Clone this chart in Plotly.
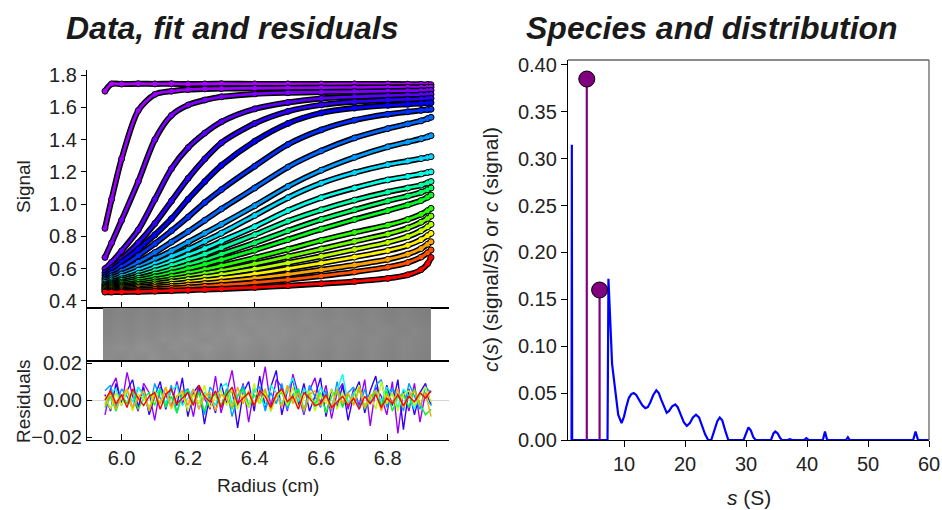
import colorsys
import numpy as np
import plotly.graph_objects as go

# ---------------- data ----------------
radius = [5.95, 5.97, 6.00, 6.05, 6.10, 6.15, 6.20, 6.25, 6.30, 6.40,
          6.50, 6.60, 6.70, 6.80, 6.86, 6.90, 6.92, 6.93]

scans = [
    [1.700, 1.745, 1.744, 1.746, 1.745, 1.746, 1.744, 1.745, 1.746, 1.745, 1.745, 1.744, 1.745, 1.744, 1.743, 1.742, 1.741, 1.740],
    [0.850, 1.030, 1.280, 1.580, 1.680, 1.700, 1.710, 1.714, 1.716, 1.718, 1.720, 1.721, 1.722, 1.723, 1.724, 1.724, 1.725, 1.725],
    [0.670, 0.760, 0.900, 1.140, 1.400, 1.550, 1.614, 1.645, 1.665, 1.683, 1.690, 1.694, 1.697, 1.700, 1.702, 1.703, 1.704, 1.705],
    [0.600, 0.640, 0.710, 0.840, 1.030, 1.220, 1.350, 1.440, 1.510, 1.590, 1.630, 1.655, 1.665, 1.672, 1.676, 1.678, 1.680, 1.680],
    [0.575, 0.605, 0.660, 0.760, 0.880, 1.020, 1.160, 1.280, 1.380, 1.500, 1.575, 1.615, 1.635, 1.645, 1.649, 1.652, 1.654, 1.655],
    [0.560, 0.590, 0.640, 0.720, 0.810, 0.910, 1.030, 1.140, 1.240, 1.390, 1.500, 1.565, 1.595, 1.612, 1.619, 1.624, 1.627, 1.628],
    [0.545, 0.570, 0.610, 0.680, 0.755, 0.835, 0.920, 1.010, 1.090, 1.235, 1.370, 1.460, 1.520, 1.557, 1.572, 1.581, 1.586, 1.588],
    [0.535, 0.555, 0.585, 0.640, 0.700, 0.765, 0.830, 0.900, 0.970, 1.100, 1.230, 1.330, 1.410, 1.468, 1.497, 1.516, 1.530, 1.538],
    [0.525, 0.542, 0.567, 0.610, 0.660, 0.710, 0.765, 0.820, 0.875, 0.990, 1.110, 1.210, 1.290, 1.355, 1.385, 1.405, 1.417, 1.424],
    [0.515, 0.530, 0.552, 0.590, 0.630, 0.675, 0.720, 0.770, 0.820, 0.930, 1.040, 1.130, 1.195, 1.245, 1.267, 1.282, 1.290, 1.294],
    [0.505, 0.518, 0.537, 0.570, 0.607, 0.645, 0.685, 0.725, 0.770, 0.860, 0.960, 1.040, 1.100, 1.150, 1.172, 1.187, 1.196, 1.200],
    [0.500, 0.510, 0.527, 0.555, 0.587, 0.620, 0.655, 0.690, 0.730, 0.810, 0.895, 0.965, 1.025, 1.075, 1.100, 1.118, 1.132, 1.140],
    [0.495, 0.503, 0.517, 0.540, 0.567, 0.595, 0.625, 0.655, 0.690, 0.760, 0.835, 0.905, 0.965, 1.020, 1.050, 1.073, 1.090, 1.100],
    [0.490, 0.497, 0.508, 0.527, 0.550, 0.574, 0.600, 0.627, 0.656, 0.715, 0.780, 0.845, 0.905, 0.960, 0.995, 1.022, 1.043, 1.056],
    [0.485, 0.490, 0.499, 0.514, 0.532, 0.552, 0.573, 0.595, 0.618, 0.667, 0.720, 0.775, 0.825, 0.870, 0.905, 0.937, 0.960, 0.974],
    [0.480, 0.484, 0.491, 0.503, 0.518, 0.534, 0.551, 0.569, 0.588, 0.630, 0.675, 0.722, 0.770, 0.815, 0.852, 0.888, 0.912, 0.926],
    [0.475, 0.478, 0.484, 0.494, 0.506, 0.519, 0.533, 0.548, 0.564, 0.598, 0.636, 0.677, 0.720, 0.763, 0.799, 0.835, 0.860, 0.875],
    [0.470, 0.472, 0.477, 0.485, 0.494, 0.504, 0.515, 0.527, 0.540, 0.568, 0.600, 0.635, 0.672, 0.712, 0.745, 0.780, 0.805, 0.819],
    [0.465, 0.466, 0.470, 0.476, 0.483, 0.491, 0.499, 0.508, 0.518, 0.540, 0.565, 0.593, 0.623, 0.658, 0.690, 0.725, 0.752, 0.767],
    [0.460, 0.461, 0.463, 0.467, 0.472, 0.478, 0.484, 0.491, 0.498, 0.514, 0.533, 0.555, 0.580, 0.610, 0.638, 0.672, 0.699, 0.716],
    [0.455, 0.455, 0.456, 0.458, 0.461, 0.464, 0.467, 0.471, 0.475, 0.484, 0.495, 0.507, 0.521, 0.540, 0.562, 0.594, 0.632, 0.670],
]

# residuals (milli-signal units), one row per displayed scan
residual_scans = [1, 4, 8, 10, 13, 16, 18, 20]
residuals_milli = [
    [-8, 6, 12, -3, 15, 2, -6, 9, 4, -11, 7, 3, -4, 10, -2, 5, -9, 8, 1, -5, 13, -7, 4, 16, -3, 9, -12, 6, 2, 18, -4, 11, 7, -6, 14, 3, -8, 5, 12, -2, 8, -10, 4, 9, -5, 6, -3, 11, -14, 7, 2, -8, 10, -18, 5, -6, 9, -12, 4, -2],
    [3, -6, 9, -2, 5, 11, -4, 7, -8, 2, 10, -5, 6, -3, 12, -9, 4, 8, -13, 3, -7, 9, -2, 6, -15, 4, 10, -6, 13, -4, 7, 16, -8, 5, 11, -3, 9, -6, 2, 12, -9, 6, -4, 8, -11, 3, 10, -7, 5, 13, -5, 8, -3, 11, -16, 6, -8, 4, 9, -3],
    [5, 8, -4, 6, 2, -5, 7, 3, -6, 9, 1, -3, 8, -7, 4, 6, -2, 5, -8, 7, 3, -4, 6, -9, 2, 8, -3, 5, 7, -6, 4, -2, 9, -5, 3, 6, -7, 8, 2, -4, 5, -6, 10, -3, 4, 7, -5, 6, -2, 8, 11, -4, 6, 3, -6, 9, 2, -5, 7, 4],
    [-2, 4, 6, -3, 5, -1, 7, 2, -4, 3, 6, -2, 5, 8, -3, 1, 6, -5, 4, 2, -3, 7, 9, -2, 3, 5, -4, 6, 1, -3, 8, 4, -2, 5, 12, -1, 6, 3, -4, 7, 2, -3, 5, 14, -2, 4, 6, -3, 2, 5, -1, 7, 3, -4, 6, 2, -5, 4, 1, -3],
    [-4, 2, -6, 3, -2, 5, -5, 1, 4, -3, 6, -4, 2, -7, 3, 5, -2, 4, -6, 1, 3, -3, 5, -5, 2, 6, -4, 3, -2, 5, -6, 2, 4, -3, 1, 6, -5, 3, -2, 4, -7, 2, 5, -4, 3, -2, 6, -5, 1, 4, -3, 5, -6, 2, 3, -4, 6, -2, -8, -5],
    [2, -5, 4, -3, 6, -6, 3, 1, -4, 5, -2, 7, -5, 2, 4, -6, 3, -2, 8, -4, 2, 5, -3, 6, -5, 3, -4, 9, -2, 4, -6, 2, 5, -3, 7, -4, 1, 5, -6, 3, -2, 6, -5, 4, -3, 2, 8, -4, 3, -5, 10, -2, 4, -6, 3, 5, -3, 2, 7, -1],
    [-3, 4, -5, 2, 6, -4, 1, 5, -6, 3, -2, 7, -4, 2, 5, -3, 6, -5, 2, 4, -6, 3, 1, -4, 7, -2, 5, -3, 2, 6, -5, 3, -4, 8, -2, 4, -6, 3, 5, -3, 2, -5, 6, -2, 4, -3, 7, -4, 2, 5, -6, 3, -2, 6, -4, 2, 5, -3, 4, -9],
    [0, 5, -2, 3, -4, 6, 1, -3, 2, 4, -5, 3, 6, -2, 1, 4, -3, 8, 2, -1, 5, -4, 3, 7, -2, 1, 4, -3, 5, 2, -4, 3, 6, -1, 2, -5, 4, 1, -3, -2, 3, -4, -1, 2, -3, 1, -5, 2, -2, 3, -4, 1, -2, 3, -3, 2, -1, 4, 1, 5],
]

# residual bitmap (grey levels)
bitmap_grey = [
    [140, 136, 142, 138, 145, 139, 137, 143, 136, 141, 138, 135, 140, 137, 134, 139, 136, 133, 138, 135, 132, 137, 134, 131, 136, 133, 130, 135, 132, 129],
    [138, 143, 139, 146, 141, 137, 144, 139, 142, 147, 140, 138, 143, 139, 136, 141, 138, 135, 140, 136, 134, 138, 135, 133, 137, 134, 131, 136, 133, 130],
    [135, 139, 136, 141, 138, 143, 140, 145, 141, 138, 144, 140, 146, 142, 139, 143, 140, 137, 141, 138, 135, 139, 136, 134, 138, 135, 132, 136, 133, 131],
    [133, 137, 134, 138, 135, 140, 137, 141, 138, 143, 139, 145, 141, 138, 144, 140, 142, 139, 136, 140, 137, 134, 138, 135, 133, 137, 134, 131, 135, 132],
    [131, 135, 132, 136, 133, 137, 134, 138, 136, 140, 137, 141, 138, 143, 139, 141, 138, 136, 140, 137, 134, 138, 135, 132, 136, 133, 130, 134, 131, 129],
    [129, 133, 130, 134, 131, 135, 132, 136, 133, 137, 134, 138, 135, 139, 136, 138, 135, 133, 137, 134, 131, 135, 132, 130, 134, 131, 128, 132, 129, 127],
]

# c(s) distribution
s_values = [1.4, 1.45, 1.5, 7.3, 7.45, 8.05, 9.05, 9.6, 10.0, 10.4, 10.8, 11.2, 11.6, 12.0, 12.5, 13.0, 13.5, 13.9, 14.3,
            14.8, 15.3, 15.7, 16.1, 16.6, 17.0, 17.4, 17.9, 18.4, 18.8, 19.3, 19.8, 20.3, 20.8, 21.3, 21.8, 22.3, 22.8,
            23.3, 23.8, 24.3, 24.8, 25.3, 25.7, 26.1, 26.6, 27.1, 29.6, 30.0, 30.4, 30.8, 31.2, 31.6, 34.1, 34.5, 34.8,
            35.2, 35.6, 35.9, 36.8, 37.2, 37.6, 39.5, 39.9, 40.3, 42.6, 42.95, 43.3, 46.4, 46.7, 47.0, 57.4, 57.8, 58.2, 60.0]
c_values = [0.0, 0.315, 0.0, 0.0, 0.172, 0.081, 0.027, 0.018, 0.025, 0.036, 0.045, 0.049, 0.050, 0.048, 0.043, 0.037, 0.034, 0.035, 0.040,
            0.048, 0.053, 0.050, 0.043, 0.034, 0.029, 0.031, 0.036, 0.038, 0.035, 0.027, 0.019, 0.015, 0.018, 0.024, 0.027, 0.024, 0.015,
            0.006, 0.0, 0.0, 0.010, 0.020, 0.024, 0.021, 0.010, 0.0, 0.0, 0.008, 0.0135, 0.010, 0.003, 0.0, 0.0, 0.007, 0.009,
            0.007, 0.002, 0.0, 0.0, 0.001, 0.0, 0.0, 0.002, 0.0, 0.0, 0.009, 0.0, 0.0, 0.003, 0.0, 0.0, 0.009, 0.0, 0.0]

species_s = [3.9, 6.0]
species_c = [0.385, 0.160]

signal_ticks = [0.4, 0.6, 0.8, 1.0, 1.2, 1.4, 1.6, 1.8]
radius_ticks = [6.0, 6.2, 6.4, 6.6, 6.8]
residual_ticks = [-0.02, 0.0, 0.02]
s_ticks = [10, 20, 30, 40, 50, 60]
c_ticks = [0.00, 0.05, 0.10, 0.15, 0.20, 0.25, 0.30, 0.35, 0.40]

# ---------------- style ----------------
W, H = 942, 510
FONT = "Liberation Sans, Arial, sans-serif"
n_scans = len(scans)


def scan_color(k):
    x = k / (n_scans - 1)
    hue = 0.78 * (1 - x ** 1.4)
    r, g, b = colorsys.hsv_to_rgb(hue, 1.0, 1.0)
    return "rgb(%d,%d,%d)" % (r * 255, g * 255, b * 255)


def px_x(p):
    return p / W


def px_y(p):
    return 1 - p / H


xdom_left = [px_x(87), px_x(449)]
xdom_right = [px_x(568), px_x(929)]

fig = go.Figure()

# data + fits
for k, vals in enumerate(scans):
    col = scan_color(k)
    fig.add_trace(go.Scatter(
        x=radius, y=vals, mode="lines+markers", xaxis="x", yaxis="y",
        line=dict(color="black", width=6, shape="spline", smoothing=0.8),
        marker=dict(size=6, color=col, line=dict(color="black", width=1)),
        showlegend=False, hoverinfo="skip"))
    fig.add_trace(go.Scatter(
        x=radius, y=vals, mode="lines", xaxis="x", yaxis="y",
        line=dict(color=col, width=2.8, shape="spline", smoothing=0.8),
        showlegend=False, hoverinfo="skip"))

# bitmap
fig.add_trace(go.Heatmap(
    z=bitmap_grey, x=np.linspace(5.944, 6.93, len(bitmap_grey[0]) + 1),
    y=np.linspace(0, 1, len(bitmap_grey) + 1), xaxis="x2", yaxis="y2",
    colorscale=[[0, "black"], [1, "white"]], zmin=0, zmax=255,
    showscale=False, zsmooth="best", hoverinfo="skip"))

# residuals
res_r = np.linspace(5.95, 6.93, len(residuals_milli[0]))
for k, row in zip(residual_scans, residuals_milli):
    fig.add_trace(go.Scatter(
        x=res_r, y=[v / 1000 for v in row], mode="lines", xaxis="x3", yaxis="y3",
        line=dict(color=scan_color(k), width=1.4),
        showlegend=False, hoverinfo="skip"))

# c(s)
fig.add_trace(go.Scatter(
    x=s_values, y=c_values, mode="lines", xaxis="x4", yaxis="y4",
    line=dict(color="#0000ff", width=2.2),
    showlegend=False, hoverinfo="skip"))

stem_x, stem_y = [], []
for s, c in zip(species_s, species_c):
    stem_x += [s, s, None]
    stem_y += [0, c, None]
fig.add_trace(go.Scatter(
    x=stem_x, y=stem_y, mode="lines", xaxis="x4", yaxis="y4",
    line=dict(color="#800080", width=2.2), showlegend=False, hoverinfo="skip"))
fig.add_trace(go.Scatter(
    x=species_s, y=species_c, mode="markers", xaxis="x4", yaxis="y4",
    marker=dict(size=16, color="#800080", line=dict(color="black", width=1)),
    showlegend=False, hoverinfo="skip", cliponaxis=False))

tickfont = dict(family=FONT, size=20, color="#222222")
axcommon = dict(showgrid=False, zeroline=False, showline=True, linecolor="black",
                linewidth=1.3, tickcolor="black", tickwidth=1.3, tickfont=tickfont,
                automargin=False)

fig.update_layout(
    width=W, height=H, margin=dict(l=0, r=0, t=0, b=0, pad=0, autoexpand=False),
    paper_bgcolor="white", plot_bgcolor="rgba(0,0,0,0)",
    font=dict(family=FONT, color="#222222"),
    xaxis=dict(domain=xdom_left, anchor="y", range=[5.896, 6.984], tickvals=radius_ticks,
               ticks="inside", ticklen=6, showticklabels=False, **axcommon),
    yaxis=dict(domain=[px_y(308), px_y(70)], anchor="x", range=[0.3566, 1.831],
               tickvals=signal_ticks, tickformat=".1f", ticks="outside", ticklen=5, **axcommon),
    xaxis2=dict(domain=xdom_left, anchor="y2", range=[5.896, 6.984], showticklabels=False,
                ticks="", mirror=True, **axcommon),
    yaxis2=dict(domain=[px_y(361), px_y(308)], anchor="x2", range=[0, 1], showticklabels=False,
                ticks="", **axcommon),
    xaxis3=dict(domain=xdom_left, anchor="y3", range=[5.896, 6.984], tickvals=radius_ticks,
                tickformat=".1f", ticks="inside", ticklen=6, mirror="ticks", **axcommon),
    yaxis3=dict(domain=[px_y(440), px_y(361)], anchor="x3", range=[-0.0216, 0.0211],
                tickvals=residual_ticks, tickformat=".2f", ticks="inside", ticklen=5,
                showgrid=False, zeroline=True, zerolinecolor="#d4d4d4", zerolinewidth=1,
                showline=True, linecolor="black", linewidth=1.3, tickcolor="black",
                tickwidth=1.3, tickfont=tickfont, automargin=False),
    xaxis4=dict(domain=xdom_right, anchor="y4", range=[0.82, 60], tickvals=s_ticks,
                ticks="outside", ticklen=6, **axcommon),
    yaxis4=dict(domain=[px_y(440), px_y(60)], anchor="x4", range=[0, 0.4053],
                tickvals=c_ticks, tickformat=".2f", ticks="outside", ticklen=6, **axcommon),
)

# grey top/right frame of the distribution panel
fig.add_shape(type="line", xref="paper", yref="paper", x0=xdom_right[0], x1=xdom_right[1],
              y0=px_y(60), y1=px_y(60), line=dict(color="#666666", width=1.3))
fig.add_shape(type="line", xref="paper", yref="paper", x0=xdom_right[1], x1=xdom_right[1],
              y0=px_y(60), y1=px_y(440), line=dict(color="#666666", width=1.3))

ann = []
ann.append(dict(text="<b><i>Data, fit and residuals</i></b>", x=px_x(232), y=px_y(28),
                font=dict(size=32, family=FONT, color="#1a1a1a")))
ann.append(dict(text="<b><i>Species and distribution</i></b>", x=px_x(712), y=px_y(28),
                font=dict(size=32, family=FONT, color="#1a1a1a")))
ann.append(dict(text="Signal", x=px_x(23), y=px_y(187), textangle=-90,
                font=dict(size=19, family=FONT, color="#222222")))
ann.append(dict(text="Residuals", x=px_x(23), y=px_y(402), textangle=-90,
                font=dict(size=19, family=FONT, color="#222222")))
ann.append(dict(text="Radius (cm)", x=px_x(268), y=px_y(485),
                font=dict(size=19, family=FONT, color="#222222")))
ann.append(dict(text="<i>c</i>(<i>s</i>) (signal/S) or <i>c</i> (signal)", x=px_x(490), y=px_y(250),
                textangle=-90, font=dict(size=21, family=FONT, color="#222222")))
ann.append(dict(text="<i>s</i> (S)", x=px_x(749), y=px_y(497),
                font=dict(size=21, family=FONT, color="#222222")))
for a in ann:
    a.update(xref="paper", yref="paper", showarrow=False, xanchor="center", yanchor="middle")
fig.update_layout(annotations=ann)

fig.write_html("out.html", config={"displayModeBar": False},
               post_script="document.body.style.margin='0px';document.body.style.padding='0px';"
                           "document.documentElement.style.overflow='hidden';")
